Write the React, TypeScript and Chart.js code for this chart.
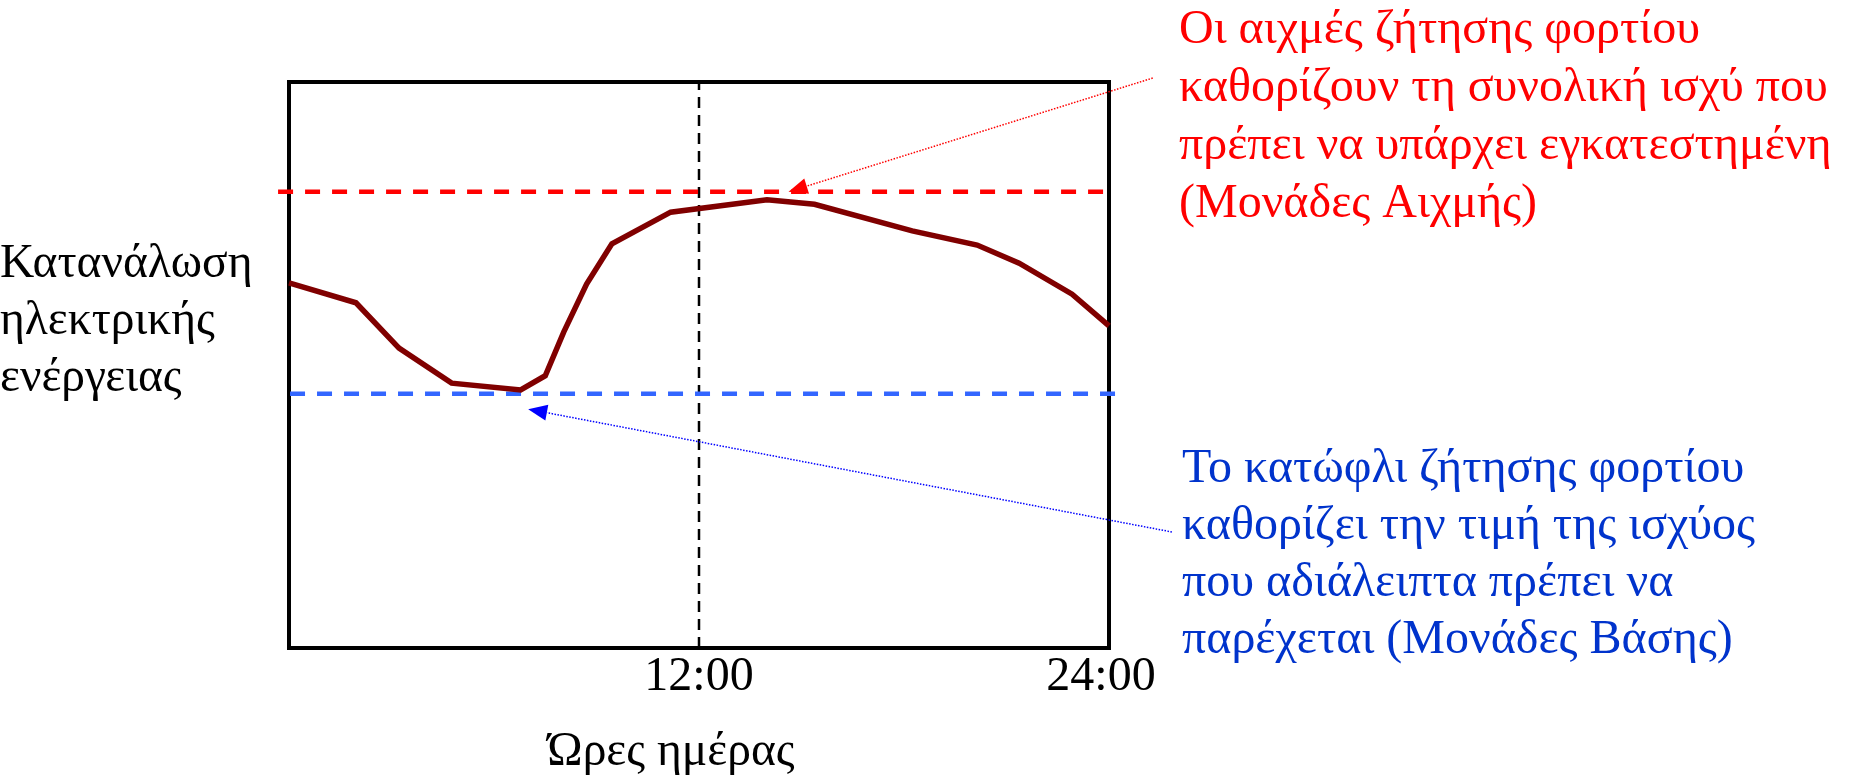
import React, { useEffect, useRef } from "react";
import { Chart, registerables } from "chart.js";

Chart.register(...registerables);

// ---- Data ----
const hours = [0, 1.96, 3.22, 4.76, 6.78, 7.5, 8.04, 8.71, 9.45, 11.17, 13.99, 15.38, 18.24, 20.14, 21.37, 22.92, 24];
const consumption = [64.5, 61.0, 53.0, 46.8, 45.6, 48.1, 55.8, 64.3, 71.4, 77.0, 79.2, 78.4, 73.7, 71.2, 68.0, 62.5, 56.9];

const peakLineHours = [-0.32, 23.88];
const peakLevel = 80.6;
const baseLineHours = [0.03, 24.2];
const baseLevel = 44.9;
const noonHour = 12;

const tickHours = [12, 24];
const tickLabels = ["12:00", "24:00"];
const xTitle = "Ώρες ημέρας";
const yTitleLines = ["Κατανάλωση", "ηλεκτρικής", "ενέργειας"];

const peakNoteLines = [
  "Οι αιχμές ζήτησης φορτίου",
  "καθορίζουν τη συνολική ισχύ που",
  "πρέπει να υπάρχει εγκατεστημένη",
  "(Μονάδες Αιχμής)",
];
const baseNoteLines = [
  "Το κατώφλι ζήτησης φορτίου",
  "καθορίζει την τιμή της ισχύος",
  "που αδιάλειπτα πρέπει να",
  "παρέχεται (Μονάδες Βάσης)",
];

// arrow ends in data units (hours, consumption)
const peakArrowFrom = [25.28, 100.7];
const peakArrowTo = [14.62, 80.6];
const baseArrowFrom = [25.84, 20.5];
const baseArrowTo = [7.0, 42.2];

const FONT = "'Liberation Serif', 'Times New Roman', serif";

function drawArrow(ctx: CanvasRenderingContext2D, x1: number, y1: number, x2: number, y2: number, color: string) {
  const ang = Math.atan2(y2 - y1, x2 - x1);
  const headLen = 19;
  const headHalf = 8;
  const bx = x2 - headLen * Math.cos(ang);
  const by = y2 - headLen * Math.sin(ang);
  ctx.save();
  ctx.strokeStyle = color;
  ctx.lineWidth = 1.5;
  ctx.setLineDash([1.5, 1.5]);
  ctx.beginPath();
  ctx.moveTo(x1, y1);
  ctx.lineTo(bx, by);
  ctx.stroke();
  ctx.setLineDash([]);
  ctx.fillStyle = color;
  ctx.beginPath();
  ctx.moveTo(x2, y2);
  ctx.lineTo(bx + headHalf * Math.sin(ang), by - headHalf * Math.cos(ang));
  ctx.lineTo(bx - headHalf * Math.sin(ang), by + headHalf * Math.cos(ang));
  ctx.closePath();
  ctx.fill();
  ctx.restore();
}

const overlayPlugin = {
  id: "overlay",
  beforeDatasetsDraw(chart: any) {
    const { ctx, chartArea: a } = chart;
    ctx.save();
    ctx.strokeStyle = "#000";
    ctx.lineWidth = 4;
    ctx.strokeRect(a.left, a.top, a.right - a.left, a.bottom - a.top);
    ctx.restore();
  },
  afterDatasetsDraw(chart: any) {
    const { ctx, chartArea: a } = chart;
    const xs = chart.scales.x;
    const ys = chart.scales.y;
    ctx.save();
    ctx.textBaseline = "alphabetic";

    // tick labels
    ctx.fillStyle = "#000";
    ctx.textAlign = "center";
    ctx.font = `48px ${FONT}`;
    tickHours.forEach((h, i) => {
      const px = xs.getPixelForValue(h) - (i === tickHours.length - 1 ? 8 : 0);
      ctx.fillText(tickLabels[i], px, a.bottom + 42);
    });
    // x title
    ctx.font = `47.5px ${FONT}`;
    ctx.fillText(xTitle, 671, 765);
    // y title
    ctx.textAlign = "left";
    yTitleLines.forEach((t, i) => ctx.fillText(t, 0, 277 + i * 57));

    // peak note
    ctx.font = `48px ${FONT}`;
    ctx.fillStyle = "#FF0000";
    peakNoteLines.forEach((t, i) => ctx.fillText(t, 1179, 43 + i * 58));
    // base note
    ctx.fillStyle = "#0033CC";
    baseNoteLines.forEach((t, i) => ctx.fillText(t, 1182, 482 + i * 57));
    ctx.restore();

    drawArrow(ctx, xs.getPixelForValue(peakArrowFrom[0]), ys.getPixelForValue(peakArrowFrom[1]),
      xs.getPixelForValue(peakArrowTo[0]), ys.getPixelForValue(peakArrowTo[1]), "#FF0000");
    drawArrow(ctx, xs.getPixelForValue(baseArrowFrom[0]), ys.getPixelForValue(baseArrowFrom[1]),
      xs.getPixelForValue(baseArrowTo[0]), ys.getPixelForValue(baseArrowTo[1]), "#0000FF");
  },
};

export default function App() {
  const canvasRef = useRef<HTMLCanvasElement | null>(null);

  useEffect(() => {
    const canvas = canvasRef.current;
    if (!canvas) return;
    const chart = new Chart(canvas, {
      type: "line",
      data: {
        datasets: [
          {
            label: "Κατανάλωση",
            data: hours.map((h, i) => ({ x: h, y: consumption[i] })),
            borderColor: "#800000",
            borderWidth: 5.5,
            pointRadius: 0,
            tension: 0,
            fill: false,
            clip: false as any,
            order: 1,
          },
          {
            label: "Αιχμή",
            data: peakLineHours.map((h) => ({ x: h, y: peakLevel })),
            borderColor: "#FF0000",
            borderWidth: 4.5,
            borderDash: [15, 12],
            pointRadius: 0,
            fill: false,
            clip: false as any,
            order: 2,
          },
          {
            label: "Βάση",
            data: baseLineHours.map((h) => ({ x: h, y: baseLevel })),
            borderColor: "#3366FF",
            borderWidth: 4.5,
            borderDash: [15, 12],
            pointRadius: 0,
            fill: false,
            clip: false as any,
            order: 3,
          },
          {
            label: "12:00",
            data: [{ x: noonHour, y: 0 }, { x: noonHour, y: 100 }],
            borderColor: "#000000",
            borderWidth: 2.5,
            borderDash: [11, 7],
            pointRadius: 0,
            fill: false,
            clip: false as any,
            order: 4,
          },
        ],
      },
      options: {
        animation: false,
        responsive: false,
        devicePixelRatio: 1,
        layout: { padding: { left: 289, top: 82, right: 740, bottom: 130 } },
        plugins: { legend: { display: false }, tooltip: { enabled: false }, title: { display: false } },
        scales: {
          x: { type: "linear", min: 0, max: 24, display: false },
          y: { type: "linear", min: 0, max: 100, display: false },
        },
        events: [],
      },
      plugins: [overlayPlugin],
    });
    return () => chart.destroy();
  }, []);

  return (
    <div style={{ position: "fixed", left: 0, top: 0, width: 1849, height: 778, background: "#fff" }}>
      <canvas ref={canvasRef} width={1849} height={778} style={{ display: "block", width: 1849, height: 778 }} />
    </div>
  );
}
